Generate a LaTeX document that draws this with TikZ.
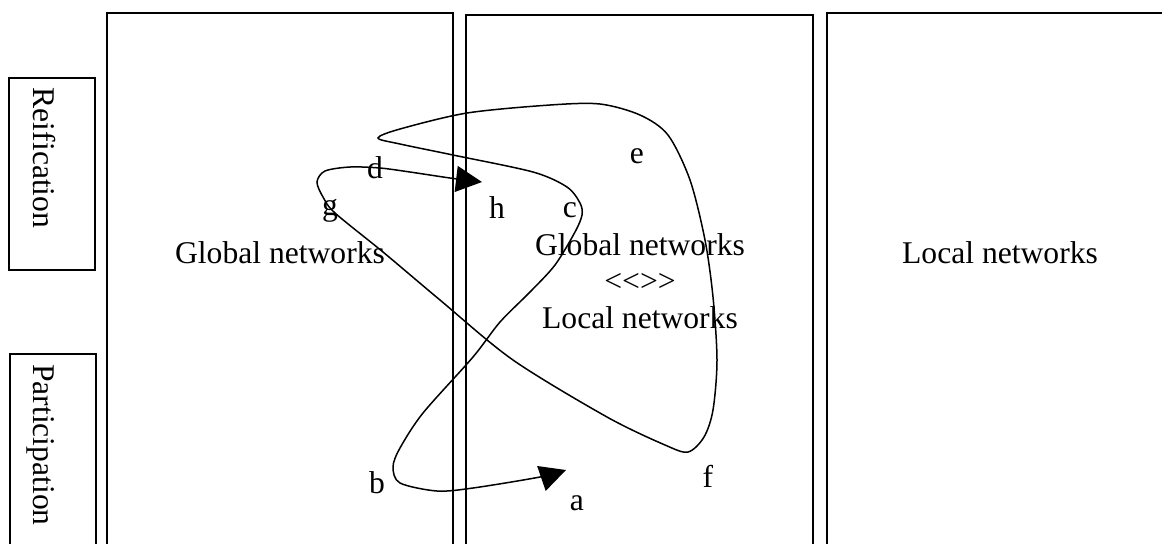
\documentclass[tikz,border=0pt]{standalone}
\usepackage{fontspec}
\setmainfont{Liberation Serif}
\usetikzlibrary{arrows.meta}

\begin{document}
\begin{tikzpicture}[
  x=0.5pt, y=-0.5pt,
  every node/.style={font=\fontsize{15.8pt}{18.25pt}\selectfont, inner sep=0pt},
  panel/.style={draw, line width=1pt},
  tag/.style={anchor=base},
  arrow/.style={arrows={Triangle[length=13pt, width=13pt]-Triangle[length=13pt, width=13pt]}, line width=0.75pt}
]
\clip (0,0) rectangle (1162,543);
% side labels
\draw[panel] (9,78) rectangle (95,270);
\draw[panel] (10,354) rectangle (96,560);
\node[rotate=-90] (reif) at (44,158) {Reification};
\node[rotate=-90] (part) at (41,445) {Participation};
% the three columns
\draw[panel] (107,13) rectangle (453,560);
\draw[panel] (466,15) rectangle (813,560);
\draw[panel] (827,13) rectangle (1173,560);
\node[tag] (glob) at (280,263) {Global networks};
\node[align=center] (both) at (640,281) {Global networks\\<\kern0pt<>\kern0pt>\\Local networks};
\node[tag] (loc) at (1000,263) {Local networks};
% letters along the path
\node[tag] (la) at (577,510) {a};
\node[tag] (lb) at (377,493) {b};
\node[tag] (lc) at (570,217) {c};
\node[tag] (ld) at (375,178) {d};
\node[tag] (le) at (637,163) {e};
\node[tag] (lf) at (708,487) {f};
\node[tag] (lg) at (330,215) {g};
\node[tag] (lh) at (497,218) {h};
% the path
\coordinate (hEnd) at (482,182);
\coordinate (aEnd) at (566,470);
\draw[arrow] plot[smooth] coordinates {(hEnd) (450,178) (410,172) (380,168)
  (350,167) (325,171) (317,182) (323,197) (335,213) (383,252) (440,300)
  (513,360) (607,417) (665,445) (688,452) (704,437) (713,410) (717,360)
  (713,297) (705,240) (690,180) (668,135) (640,115) (600,104) (550,105)
  (467,113) (400,129) (378,138) (400,144) (453,155) (533,172) (567,187)
  (580,203) (582,215) (575,232) (555,265) (530,292) (500,322) (473,357)
  (423,413) (400,448) (393,467) (400,483) (437,491) (473,488) (540,477) (aEnd)};
\end{tikzpicture}
\end{document}
